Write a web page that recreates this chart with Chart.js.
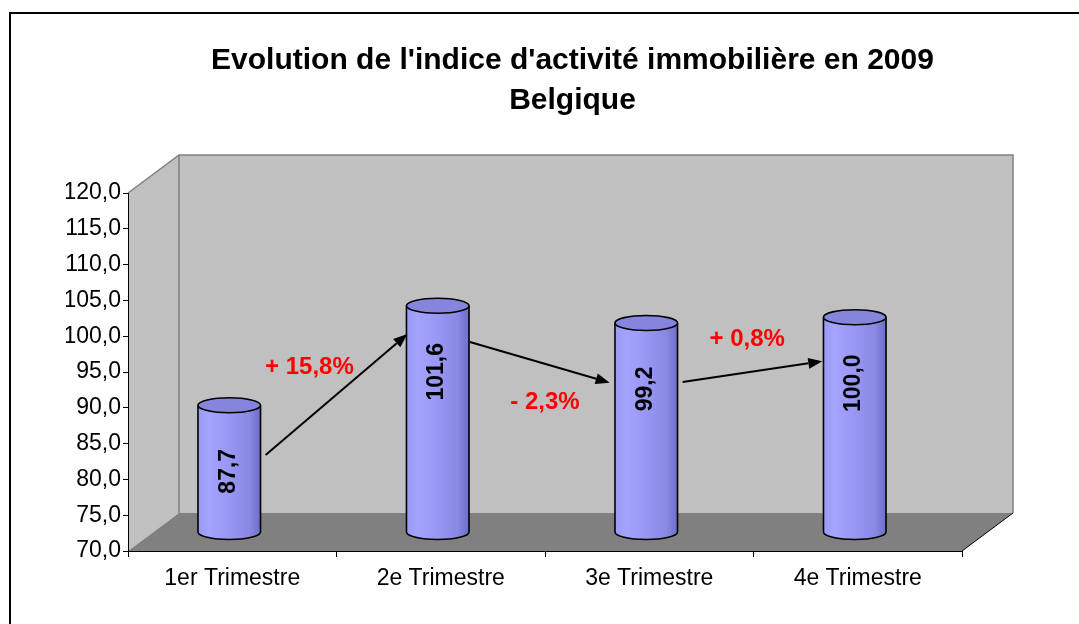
<!DOCTYPE html>
<html>
<head>
<meta charset="utf-8">
<script src="https://cdn.jsdelivr.net/npm/chart.js@4.4.1/dist/chart.umd.min.js"></script>
<style>
html,body{margin:0;padding:0;background:#fff;}
#wrap{width:1079px;height:624px;position:relative;overflow:hidden;}
</style>
</head>
<body>
<div id="wrap"><canvas id="c" width="1079" height="624"></canvas></div>
<script>
// ---- data ----
const categories = ['1er Trimestre', '2e Trimestre', '3e Trimestre', '4e Trimestre'];
const indexValues = [87.7, 101.6, 99.2, 100.0];
const valueLabels = ['87,7', '101,6', '99,2', '100,0'];
const yMin = 70, yMax = 120, yStep = 5;
const titleLines = ["Evolution de l'indice d'activité immobilière en 2009", 'Belgique'];
const changeLabels = ['+ 15,8%', '- 2,3%', '+ 0,8%'];
// annotation anchors in data units: [category index, value]
const changeLabelAt = [[0.37, 95.6], [1.50, 90.8], [2.47, 99.5]];
const arrowFrom = [[0.16, 83.4], [1.14, 99.2], [2.16, 93.6]];
const arrowTo = [[0.84, 100.3], [1.81, 93.5], [2.83, 96.5]];

// ---- style ----
const FONT = "'Liberation Sans', Arial, sans-serif";
const DX = 51, DY = -38;      // 3D depth offset
const CYL_SHIFT = -3;         // cylinder horizontal shift
const CYL_RY = 7.5;

const fmt = v => v.toFixed(1).replace('.', ',');

const scene3d = {
  id: 'scene3d',
  beforeDraw(chart) {
    const ctx = chart.ctx;
    const a = chart.chartArea;
    ctx.save();
    // outer frame
    ctx.strokeStyle = '#000';
    ctx.lineWidth = 2;
    ctx.strokeRect(10, 13, 1100, 700);
    // left side wall
    ctx.fillStyle = '#C0C0C0';
    ctx.beginPath();
    ctx.moveTo(a.left, a.top);
    ctx.lineTo(a.left + DX, a.top + DY);
    ctx.lineTo(a.left + DX, a.bottom + DY);
    ctx.lineTo(a.left, a.bottom);
    ctx.closePath();
    ctx.fill();
    // back wall
    ctx.beginPath();
    ctx.rect(a.left + DX, a.top + DY, a.right - a.left, a.bottom - a.top);
    ctx.fill();
    // floor
    ctx.fillStyle = '#808080';
    ctx.beginPath();
    ctx.moveTo(a.left, a.bottom);
    ctx.lineTo(a.left + DX, a.bottom + DY);
    ctx.lineTo(a.right + DX, a.bottom + DY);
    ctx.lineTo(a.right, a.bottom);
    ctx.closePath();
    ctx.fill();
    // edges
    ctx.strokeStyle = '#808080';
    ctx.lineWidth = 1.5;
    ctx.beginPath();
    ctx.moveTo(a.left, a.top);
    ctx.lineTo(a.left + DX, a.top + DY);
    ctx.lineTo(a.right + DX, a.top + DY);
    ctx.lineTo(a.right + DX, a.bottom + DY);
    ctx.moveTo(a.left + DX, a.top + DY);
    ctx.lineTo(a.left + DX, a.bottom + DY);
    ctx.stroke();
    ctx.strokeStyle = '#000';
    ctx.lineWidth = 1;
    ctx.beginPath();
    ctx.moveTo(a.right, a.bottom);
    ctx.lineTo(a.right + DX, a.bottom + DY);
    ctx.stroke();
    ctx.restore();
  },
  afterLayout(chart) {
    // centre the title over the 3D plot (front plane + depth)
    const t = chart.titleBlock;
    if (t) {
      const a = chart.chartArea;
      t.left = a.left;
      t.right = a.right + DX + 4;
      t.width = t.right - t.left;
    }
  },
  afterDatasetsDraw(chart) {
    const ctx = chart.ctx;
    const xs = chart.scales.x, ys = chart.scales.y;
    const meta = chart.getDatasetMeta(0);
    const basePx = ys.getPixelForValue(yMin);
    ctx.save();
    meta.data.forEach((bar, i) => {
      const rx = bar.width / 2;
      const cx = bar.x + CYL_SHIFT;
      const topY = bar.y + DY / 2;
      const botY = basePx + DY / 2;
      const g = ctx.createLinearGradient(cx - rx, 0, cx + rx, 0);
      g.addColorStop(0, '#9A9AF6');
      g.addColorStop(0.18, '#A4A4FF');
      g.addColorStop(0.5, '#9797F4');
      g.addColorStop(0.82, '#8989E4');
      g.addColorStop(1, '#6E6EC8');
      ctx.beginPath();
      ctx.moveTo(cx - rx, topY);
      ctx.lineTo(cx - rx, botY);
      ctx.ellipse(cx, botY, rx, CYL_RY, 0, Math.PI, 0, true);
      ctx.lineTo(cx + rx, topY);
      ctx.ellipse(cx, topY, rx, CYL_RY, 0, 0, Math.PI, false);
      ctx.closePath();
      ctx.fillStyle = g;
      ctx.fill();
      ctx.strokeStyle = '#000';
      ctx.lineWidth = 1.6;
      ctx.beginPath();
      ctx.moveTo(cx - rx, topY);
      ctx.lineTo(cx - rx, botY);
      ctx.ellipse(cx, botY, rx, CYL_RY, 0, Math.PI, 0, true);
      ctx.lineTo(cx + rx, topY);
      ctx.stroke();
      // top cap
      ctx.beginPath();
      ctx.ellipse(cx, topY, rx, CYL_RY, 0, 0, Math.PI * 2);
      ctx.fillStyle = '#8585DE';
      ctx.fill();
      ctx.stroke();
      // value label
      ctx.save();
      ctx.translate(cx - 1, topY + 66);
      ctx.rotate(-Math.PI / 2);
      ctx.fillStyle = '#000';
      ctx.font = 'bold 23px ' + FONT;
      ctx.textAlign = 'center';
      ctx.textBaseline = 'middle';
      ctx.fillText(valueLabels[i], 0, 0);
      ctx.restore();
    });
    // arrows
    ctx.strokeStyle = '#000';
    ctx.fillStyle = '#000';
    ctx.lineWidth = 2;
    arrowFrom.forEach((f, i) => {
      const x1 = xs.getPixelForValue(f[0]), y1 = ys.getPixelForValue(f[1]);
      const x2 = xs.getPixelForValue(arrowTo[i][0]), y2 = ys.getPixelForValue(arrowTo[i][1]);
      const ang = Math.atan2(y2 - y1, x2 - x1);
      const L = 14, H = 5.5;
      const bx = x2 - L * Math.cos(ang), by = y2 - L * Math.sin(ang);
      ctx.beginPath();
      ctx.moveTo(x1, y1);
      ctx.lineTo(bx, by);
      ctx.stroke();
      ctx.beginPath();
      ctx.moveTo(x2, y2);
      ctx.lineTo(bx + H * Math.sin(ang), by - H * Math.cos(ang));
      ctx.lineTo(bx - H * Math.sin(ang), by + H * Math.cos(ang));
      ctx.closePath();
      ctx.fill();
    });
    // change labels
    ctx.fillStyle = '#FF0000';
    ctx.font = 'bold 24px ' + FONT;
    ctx.textAlign = 'center';
    ctx.textBaseline = 'middle';
    changeLabels.forEach((t, i) => {
      ctx.fillText(t, xs.getPixelForValue(changeLabelAt[i][0]), ys.getPixelForValue(changeLabelAt[i][1]));
    });
    ctx.restore();
  }
};

new Chart(document.getElementById('c'), {
  type: 'bar',
  data: {
    labels: categories,
    datasets: [{
      data: indexValues,
      base: yMin,
      backgroundColor: 'rgba(0,0,0,0)',
      borderWidth: 0,
      barPercentage: 0.3,
      categoryPercentage: 1.0
    }]
  },
  options: {
    responsive: false,
    animation: false,
    devicePixelRatio: 1,
    layout: { padding: { left: 66, right: 117, top: 0, bottom: 0 } },
    plugins: {
      legend: { display: false },
      tooltip: { enabled: false },
      title: {
        display: true,
        text: titleLines,
        color: '#000',
        font: { family: FONT, size: 30, weight: 'bold', lineHeight: 1.33 },
        padding: { top: 41, bottom: 72.2 }
      }
    },
    scales: {
      x: {
        grid: {
          offset: true, drawOnChartArea: false, drawTicks: true, tickLength: 6,
          color: c => (c.index === categories.length ? '#808080' : '#000')
        },
        border: { display: true, color: '#000', width: 1 },
        ticks: { font: { family: FONT, size: 23 }, color: '#000', padding: 8, maxRotation: 0, autoSkip: false },
        afterFit(s) { s.height = 73; }
      },
      y: {
        min: yMin, max: yMax,
        ticks: { stepSize: yStep, callback: v => fmt(v), font: { family: FONT, size: 23 }, color: '#000', padding: 2 },
        grid: { drawOnChartArea: false, drawTicks: true, tickLength: 5, color: '#000' },
        border: { display: true, color: '#000', width: 1 },
        afterFit(s) { s.width = 62; }
      }
    }
  },
  plugins: [scene3d]
});
</script>
</body>
</html>
